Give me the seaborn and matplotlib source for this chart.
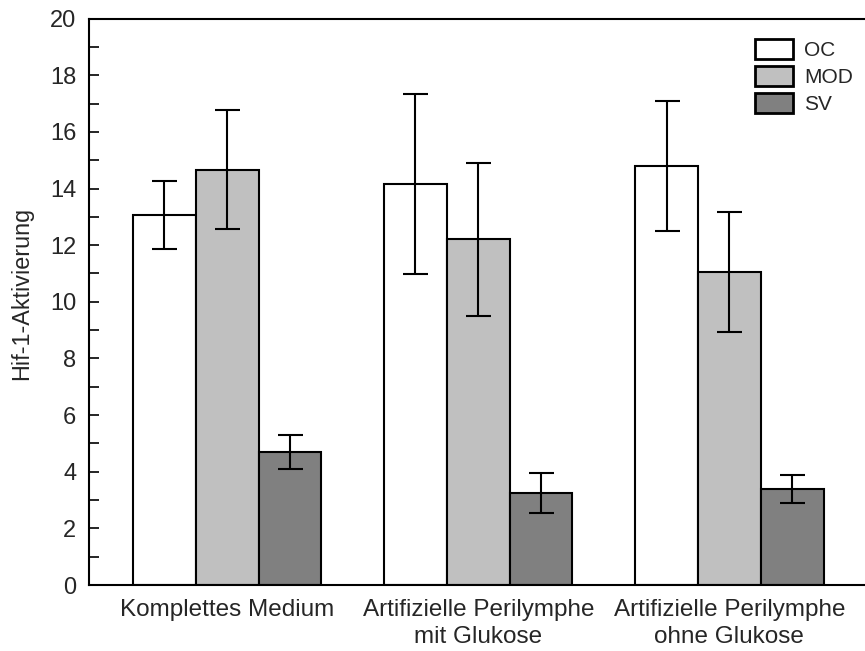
import matplotlib
matplotlib.use("Agg")
import matplotlib.pyplot as plt
from matplotlib.ticker import MultipleLocator
import seaborn as sns
import pandas as pd

# Medium conditions and tissue groups
conditions = ["Komplettes Medium",
              "Artifizielle Perilymphe\nmit Glukose",
              "Artifizielle Perilymphe\nohne Glukose"]
groups = ["OC", "MOD", "SV"]

# Mean Hif-1 activation per condition
oc_mean = [13.07, 14.16, 14.80]
mod_mean = [14.67, 12.20, 11.05]
sv_mean = [4.69, 3.24, 3.39]

# Error (± half-range) per condition
oc_err = [1.21, 3.19, 2.30]
mod_err = [2.10, 2.70, 2.12]
sv_err = [0.60, 0.71, 0.51]

colors = ["#ffffff", "#c0c0c0", "#808080"]

sns.set_theme(style="white")
plt.rcParams["font.family"] = ["Liberation Sans", "DejaVu Sans"]

means = [oc_mean, mod_mean, sv_mean]
errs = [oc_err, mod_err, sv_err]
rows = []
for g, m in zip(groups, means):
    for c, v in zip(conditions, m):
        rows.append({"Bedingung": c, "Gruppe": g, "Wert": v})
df = pd.DataFrame(rows)

fig = plt.figure(figsize=(8.65, 6.51), dpi=100)
ax = fig.add_axes([89 / 865, 1 - 585 / 651, 1 - 89 / 865, (585 - 18.6) / 651])

sns.barplot(data=df, x="Bedingung", y="Wert", hue="Gruppe",
            order=conditions, hue_order=groups, palette=colors,
            width=0.75, errorbar=None, edgecolor="black", linewidth=1.5,
            saturation=1, ax=ax)

# error bars at each bar centre
for cont, err in zip(ax.containers, errs):
    for bar, e in zip(cont, err):
        xc = bar.get_x() + bar.get_width() / 2
        ax.errorbar(xc, bar.get_height(), yerr=e, fmt="none",
                    ecolor="black", elinewidth=1.5, capsize=9, capthick=1.5)

ax.set_ylim(0, 20)
ax.set_xlim(-0.55, 2.54)
ax.yaxis.set_major_locator(MultipleLocator(2))
ax.yaxis.set_minor_locator(MultipleLocator(1))
ax.tick_params(axis="y", which="both", direction="in", length=7, width=1.2,
               left=True, labelsize=17, pad=9, color="black")
ax.tick_params(axis="x", length=0, labelsize=17.5, pad=10)
for lbl in ax.get_xticklabels():
    lbl.set_linespacing(1.3)
ax.set_xlabel("")
ax.set_ylabel("Hif-1-Aktivierung", fontsize=16.8)
ax.yaxis.set_label_coords(-0.072, 0.514)

for side in ["left", "bottom", "top"]:
    ax.spines[side].set_color("black")
    ax.spines[side].set_linewidth(1.5)
ax.spines["right"].set_visible(False)

leg = ax.legend(loc="upper right", bbox_to_anchor=(1.003, 0.99), frameon=False,
                fontsize=15, handlelength=1.83, handleheight=1.1,
                labelspacing=0.29, handletextpad=0.53, borderaxespad=0.3)
for h in leg.legend_handles:
    h.set_edgecolor("black")
    h.set_linewidth(2)

fig.savefig("out.png", dpi=100)
